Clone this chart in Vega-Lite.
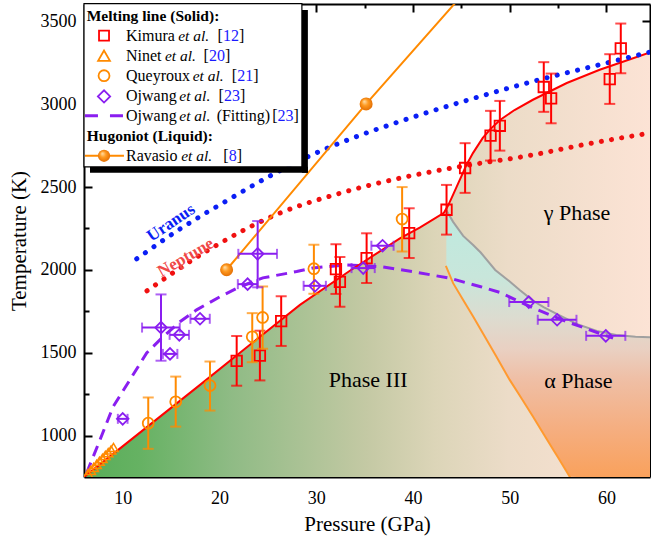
{
  "$schema": "https://vega.github.io/schema/vega-lite/v6.json",
  "width": 566,
  "height": 473,
  "autosize": {"type": "none"},
  "padding": {"left": 84, "top": 4, "right": 1, "bottom": 65},
  "background": "white",
  "data": {"values": [{}]},
  "config": {
    "view": {"stroke": null},
    "font": "Liberation Serif",
    "axis": {
      "labelFont": "Liberation Serif", "titleFont": "Liberation Serif",
      "labelFontSize": 18, "titleFontSize": 21, "titleFontWeight": "normal", "format": "d",
      "labelColor": "#000", "titleColor": "#000", "domainColor": "#000", "tickColor": "#000",
      "domainWidth": 2, "tickWidth": 2, "grid": false
    },
    "text": {"font": "Liberation Serif"}
  },
  "datasets": {
    "melt": [
      {"P": 6.0, "T": 748}, {"P": 6.28, "T": 763}, {"P": 12.82, "T": 1066}, {"P": 17.99, "T": 1306},
      {"P": 23.15, "T": 1548}, {"P": 28.32, "T": 1789}, {"P": 33.48, "T": 1995}, {"P": 38.65, "T": 2190},
      {"P": 40.7, "T": 2255}, {"P": 42.1, "T": 2305}, {"P": 43.2, "T": 2345}, {"P": 43.6, "T": 2385},
      {"P": 44.0, "T": 2435}, {"P": 44.5, "T": 2500}, {"P": 45.0, "T": 2565}, {"P": 45.5, "T": 2630},
      {"P": 46.2, "T": 2705}, {"P": 47.2, "T": 2795}, {"P": 48.0, "T": 2850}, {"P": 49.0, "T": 2905},
      {"P": 50.5, "T": 2965}, {"P": 52.4, "T": 3027}, {"P": 55.9, "T": 3128}, {"P": 59.3, "T": 3208},
      {"P": 64.5, "T": 3313}
    ],
    "alpha": [
      {"P": 43.45, "top": 2360, "bottom": 2025}, {"P": 44.15, "top": 2290, "bottom": 1920},
      {"P": 45.19, "top": 2205, "bottom": 1819}, {"P": 46.22, "top": 2150, "bottom": 1719},
      {"P": 47.0, "top": 2105, "bottom": 1640}, {"P": 48.5, "top": 2000, "bottom": 1490},
      {"P": 50.0, "top": 1930, "bottom": 1336}, {"P": 51.0, "top": 1880, "bottom": 1245},
      {"P": 52.4, "top": 1815, "bottom": 1115}, {"P": 53.5, "top": 1775, "bottom": 1010},
      {"P": 54.5, "top": 1745, "bottom": 914}, {"P": 55.0, "top": 1730, "bottom": 868},
      {"P": 56.2, "top": 1695, "bottom": 752}, {"P": 57.0, "top": 1672, "bottom": 750},
      {"P": 59.0, "top": 1632, "bottom": 750}, {"P": 61.0, "top": 1607, "bottom": 750},
      {"P": 63.0, "top": 1596, "bottom": 750}, {"P": 64.5, "top": 1594, "bottom": 750}
    ],
    "aboundary": [
      {"P": 43.4, "T": 2025}, {"P": 44.15, "T": 1920}, {"P": 45.19, "T": 1819}, {"P": 46.22, "T": 1719},
      {"P": 47.0, "T": 1640}, {"P": 48.5, "T": 1490}, {"P": 50.0, "T": 1336}, {"P": 51.0, "T": 1245},
      {"P": 52.4, "T": 1115}, {"P": 53.5, "T": 1010}, {"P": 54.5, "T": 914}, {"P": 55.0, "T": 868},
      {"P": 56.2, "T": 752}, {"P": 56.4, "T": 735}
    ],
    "fit": [
      {"P": 6.28, "T": 775}, {"P": 7.65, "T": 974}, {"P": 9.0, "T": 1173}, {"P": 10.75, "T": 1337},
      {"P": 12.48, "T": 1499}, {"P": 14.16, "T": 1596}, {"P": 15.92, "T": 1687}, {"P": 17.64, "T": 1759},
      {"P": 20.05, "T": 1838}, {"P": 22.12, "T": 1898}, {"P": 24.49, "T": 1952}, {"P": 27.98, "T": 1990},
      {"P": 29.66, "T": 2012}, {"P": 33.14, "T": 2030}, {"P": 36.58, "T": 2020}, {"P": 39.99, "T": 1990},
      {"P": 42.44, "T": 1964}, {"P": 43.81, "T": 1950}, {"P": 46.91, "T": 1900}, {"P": 48.98, "T": 1864},
      {"P": 52.39, "T": 1771}, {"P": 55.87, "T": 1688}, {"P": 60.68, "T": 1588}
    ],
    "uranus": [
      {"P": 11.45, "T": 2067}, {"P": 16.0, "T": 2250}, {"P": 20.91, "T": 2423}, {"P": 25.0, "T": 2560},
      {"P": 29.01, "T": 2680}, {"P": 33.5, "T": 2790}, {"P": 38.65, "T": 2896}, {"P": 45.54, "T": 3023},
      {"P": 52.42, "T": 3138}, {"P": 59.32, "T": 3239}, {"P": 64.5, "T": 3315}
    ],
    "neptune": [
      {"P": 12.51, "T": 1874}, {"P": 19.0, "T": 2125}, {"P": 26.25, "T": 2343}, {"P": 32.0, "T": 2455},
      {"P": 38.65, "T": 2554}, {"P": 45.0, "T": 2625}, {"P": 52.0, "T": 2690}, {"P": 58.0, "T": 2760},
      {"P": 64.5, "T": 2826}
    ],
    "ravLine": [{"P": 20.74, "T": 2001}, {"P": 35.16, "T": 3002}, {"P": 44.5, "T": 3620}],
    "rav": [{"P": 20.74, "T": 2001}, {"P": 35.16, "T": 3002}],
    "kimura": [
      {"P": 21.78, "T": 1451, "lo": 1301, "hi": 1601}, {"P": 24.18, "T": 1483, "lo": 1333, "hi": 1633},
      {"P": 26.38, "T": 1691, "lo": 1541, "hi": 1841}, {"P": 32.04, "T": 2005, "lo": 1855, "hi": 2155},
      {"P": 32.45, "T": 1928, "lo": 1778, "hi": 2078}, {"P": 35.21, "T": 2071, "lo": 1921, "hi": 2221},
      {"P": 39.61, "T": 2222, "lo": 2072, "hi": 2372}, {"P": 43.47, "T": 2363, "lo": 2213, "hi": 2513},
      {"P": 45.39, "T": 2615, "lo": 2465, "hi": 2765}, {"P": 48.02, "T": 2810, "lo": 2660, "hi": 2960},
      {"P": 48.98, "T": 2870, "lo": 2720, "hi": 3020}, {"P": 53.52, "T": 3104, "lo": 2954, "hi": 3254},
      {"P": 54.28, "T": 3035, "lo": 2885, "hi": 3185}, {"P": 60.34, "T": 3152, "lo": 3002, "hi": 3302},
      {"P": 61.48, "T": 3337, "lo": 3187, "hi": 3487}
    ],
    "queyroux": [
      {"P": 12.64, "T": 1075, "lo": 920, "hi": 1230}, {"P": 15.48, "T": 1204, "lo": 1054, "hi": 1356},
      {"P": 19.02, "T": 1302, "lo": 1151, "hi": 1447}, {"P": 23.39, "T": 1596, "lo": 1443, "hi": 1739},
      {"P": 24.46, "T": 1713, "lo": 1524, "hi": 1900}, {"P": 29.76, "T": 2007, "lo": 1856, "hi": 2152},
      {"P": 38.88, "T": 2307, "lo": 2111, "hi": 2500}
    ],
    "ninet": [
      {"P": 6.4, "T": 770}, {"P": 6.7, "T": 790}, {"P": 7.0, "T": 808}, {"P": 7.3, "T": 826},
      {"P": 7.6, "T": 845}, {"P": 7.9, "T": 862}, {"P": 8.2, "T": 880}, {"P": 8.5, "T": 897},
      {"P": 8.8, "T": 913}, {"P": 9.05, "T": 928}
    ],
    "ojwang": [
      {"P": 10.0, "T": 1101, "xlo": 9.5, "xhi": 10.5}, {"P": 13.96, "T": 1652, "xlo": 12.0, "xhi": 15.9},
      {"P": 14.89, "T": 1493, "xlo": 14.15, "xhi": 15.65}, {"P": 15.85, "T": 1608, "xlo": 14.85, "xhi": 16.85},
      {"P": 17.99, "T": 1705, "xlo": 17.0, "xhi": 19.0}, {"P": 22.91, "T": 1914, "xlo": 21.9, "xhi": 23.9},
      {"P": 23.95, "T": 2097, "xlo": 21.95, "xhi": 25.95}, {"P": 29.87, "T": 1904, "xlo": 28.7, "xhi": 31.0},
      {"P": 34.86, "T": 2011, "xlo": 33.65, "xhi": 36.05}, {"P": 36.86, "T": 2146, "xlo": 35.7, "xhi": 38.0},
      {"P": 51.97, "T": 1806, "xlo": 49.95, "xhi": 54.0}, {"P": 54.9, "T": 1699, "xlo": 52.9, "xhi": 56.9},
      {"P": 59.93, "T": 1602, "xlo": 57.9, "xhi": 61.95}
    ],
    "ojwangY": [{"P": 13.96, "lo": 1452, "hi": 1852}, {"P": 23.95, "lo": 1895, "hi": 2295}],
    "phaseLabels": [
      {"t": "Phase III", "P": 35.37, "T": 1336}, {"t": "γ Phase", "P": 56.95, "T": 2345},
      {"t": "α Phase", "P": 57.1, "T": 1330}
    ],
    "legNormal": [
      {"t": "Kimura", "P": 10.34, "T": 3414}, {"t": "[", "P": 19.81, "T": 3414}, {"t": "]", "P": 22.02, "T": 3414},
      {"t": "Ninet", "P": 10.34, "T": 3293}, {"t": "[", "P": 18.36, "T": 3293}, {"t": "]", "P": 20.57, "T": 3293},
      {"t": "Queyroux", "P": 10.34, "T": 3172}, {"t": "[", "P": 21.28, "T": 3172}, {"t": "]", "P": 23.49, "T": 3172},
      {"t": "Ojwang", "P": 10.34, "T": 3047}, {"t": "[", "P": 19.91, "T": 3047}, {"t": "]", "P": 22.12, "T": 3047},
      {"t": "Ojwang", "P": 10.34, "T": 2931}, {"t": "(Fitting)", "P": 19.71, "T": 2931}, {"t": "[", "P": 25.45, "T": 2931}, {"t": "]", "P": 27.66, "T": 2931},
      {"t": "Ravasio", "P": 10.34, "T": 2689}, {"t": "[", "P": 20.4, "T": 2689}, {"t": "]", "P": 21.79, "T": 2689}
    ],
    "legItalic": [
      {"t": "et al.", "P": 15.74, "T": 3414}, {"t": "et al.", "P": 14.37, "T": 3293}, {"t": "et al.", "P": 17.23, "T": 3172},
      {"t": "et al.", "P": 15.85, "T": 3047}, {"t": "et al.", "P": 15.85, "T": 2931}, {"t": "et al.", "P": 16.05, "T": 2689}
    ],
    "legBlue": [
      {"t": "12", "P": 20.37, "T": 3414}, {"t": "20", "P": 18.92, "T": 3293}, {"t": "21", "P": 21.84, "T": 3172},
      {"t": "23", "P": 20.47, "T": 3047}, {"t": "23", "P": 26.01, "T": 2931}, {"t": "8", "P": 20.96, "T": 2689}
    ],
    "legBold": [
      {"t": "Melting line (Solid):", "P": 6.28, "T": 3530}, {"t": "Hugoniot (Liquid):", "P": 6.28, "T": 2810}
    ]
  },
  "layer": [
    {
      "data": {"name": "melt"},
      "mark": {"type": "area", "clip": true, "fill": {"gradient": "linear", "x1": 0, "y1": 0, "x2": 1, "y2": 0,
        "stops": [
          {"offset": 0, "color": "#58ad58"}, {"offset": 0.1, "color": "#66b263"}, {"offset": 0.26, "color": "#8fbb85"},
          {"offset": 0.5, "color": "#c4c9a4"}, {"offset": 0.62, "color": "#dcd5b8"}, {"offset": 0.75, "color": "#ecdcc8"},
          {"offset": 1, "color": "#fce3d5"}]}},
      "encoding": {
        "x": {"field": "P", "type": "quantitative", "scale": {"domain": [6, 64.5], "nice": false, "zero": false},
          "axis": {"orient": "bottom", "values": [10, 20, 30, 40, 50, 60], "tickSize": -8, "labelPadding": 20, "title": "Pressure (GPa)", "titlePadding": 6}},
        "y": {"field": "T", "type": "quantitative", "scale": {"domain": [750, 3605], "nice": false, "zero": false},
          "axis": {"orient": "left", "values": [1000, 1500, 2000, 2500, 3000, 3500], "tickSize": -8, "labelPadding": 16, "title": "Temperature (K)", "titlePadding": 11}},
        "y2": {"datum": 750}
      }
    },
    {
      "data": {"name": "alpha"},
      "mark": {"type": "area", "clip": true, "fill": {"gradient": "linear", "x1": 0, "y1": 0, "x2": 0, "y2": 1,
        "stops": [
          {"offset": 0, "color": "#bdeadf"}, {"offset": 0.25, "color": "#c8e6db"}, {"offset": 0.4, "color": "#dcdcd0"},
          {"offset": 0.52, "color": "#e9d0c2"}, {"offset": 0.63, "color": "#efbfa6"}, {"offset": 0.82, "color": "#f5ae80"},
          {"offset": 1, "color": "#f9a15c"}]}},
      "encoding": {
        "x": {"field": "P", "type": "quantitative", "scale": {"domain": [6, 64.5], "nice": false, "zero": false},
          "axis": {"orient": "bottom", "values": [15, 25, 35, 45, 55], "tickSize": -4, "labels": false, "domain": false, "title": null}},
        "y": {"field": "top", "type": "quantitative", "scale": {"domain": [750, 3605], "nice": false, "zero": false},
          "axis": {"orient": "left", "values": [1250, 1750, 2250, 2750, 3250], "tickSize": -5, "labels": false, "domain": false, "title": null}},
        "y2": {"field": "bottom"}
      }
    },
    {
      "data": {"name": "alpha"},
      "mark": {"type": "line", "clip": true, "color": "#a0a0a0", "strokeWidth": 2},
      "encoding": {
        "x": {"field": "P", "type": "quantitative", "scale": {"domain": [6, 64.5], "nice": false, "zero": false},
          "axis": {"orient": "top", "values": [10, 20, 30, 40, 50, 60], "tickSize": -8, "labels": false, "title": null}},
        "y": {"field": "top", "type": "quantitative", "scale": {"domain": [750, 3605], "nice": false, "zero": false},
          "axis": {"orient": "right", "values": [1000, 1500, 2000, 2500, 3000, 3500], "tickSize": -8, "labels": false, "title": null}}
      }
    },
    {
      "data": {"name": "aboundary"},
      "mark": {"type": "line", "clip": true, "color": "#ff9a30", "strokeWidth": 2},
      "encoding": {
        "x": {"field": "P", "type": "quantitative", "scale": {"domain": [6, 64.5], "nice": false, "zero": false},
          "axis": {"orient": "top", "values": [15, 25, 35, 45, 55], "tickSize": -4, "labels": false, "domain": false, "title": null}},
        "y": {"field": "T", "type": "quantitative", "scale": {"domain": [750, 3605], "nice": false, "zero": false},
          "axis": {"orient": "right", "values": [1250, 1750, 2250, 2750, 3250], "tickSize": -5, "labels": false, "domain": false, "title": null}}
      }
    },
    {
      "data": {"name": "fit"},
      "mark": {"type": "line", "clip": true, "color": "#8a1ef0", "strokeWidth": 3, "strokeDash": [11, 7]},
      "encoding": {
        "x": {"field": "P", "type": "quantitative", "scale": {"domain": [6, 64.5], "nice": false, "zero": false}, "axis": null},
        "y": {"field": "T", "type": "quantitative", "scale": {"domain": [750, 3605], "nice": false, "zero": false}, "axis": null}
      }
    },
    {
      "data": {"name": "melt"},
      "mark": {"type": "line", "clip": true, "color": "#ff0000", "strokeWidth": 2},
      "encoding": {
        "x": {"field": "P", "type": "quantitative", "scale": {"domain": [6, 64.5], "nice": false, "zero": false}, "axis": null},
        "y": {"field": "T", "type": "quantitative", "scale": {"domain": [750, 3605], "nice": false, "zero": false}, "axis": null}
      }
    },
    {
      "data": {"name": "uranus"},
      "mark": {"type": "line", "clip": true, "color": "#0a1ef5", "strokeWidth": 5, "strokeDash": [0.1, 10.4], "strokeCap": "round", "interpolate": "monotone"},
      "encoding": {
        "x": {"field": "P", "type": "quantitative", "scale": {"domain": [6, 64.5], "nice": false, "zero": false}, "axis": null},
        "y": {"field": "T", "type": "quantitative", "scale": {"domain": [750, 3605], "nice": false, "zero": false}, "axis": null}
      }
    },
    {
      "data": {"name": "neptune"},
      "mark": {"type": "line", "clip": true, "color": "#f01010", "strokeWidth": 5, "strokeDash": [0.1, 10.2], "strokeCap": "round", "interpolate": "monotone"},
      "encoding": {
        "x": {"field": "P", "type": "quantitative", "scale": {"domain": [6, 64.5], "nice": false, "zero": false}, "axis": null},
        "y": {"field": "T", "type": "quantitative", "scale": {"domain": [750, 3605], "nice": false, "zero": false}, "axis": null}
      }
    },
    {
      "data": {"name": "ravLine"},
      "mark": {"type": "line", "clip": true, "color": "#ff8a00", "strokeWidth": 2},
      "encoding": {
        "x": {"field": "P", "type": "quantitative", "scale": {"domain": [6, 64.5], "nice": false, "zero": false}, "axis": null},
        "y": {"field": "T", "type": "quantitative", "scale": {"domain": [750, 3605], "nice": false, "zero": false}, "axis": null}
      }
    },
    {
      "data": {"name": "rav"},
      "mark": {"type": "point", "clip": true, "shape": "circle", "size": 170, "filled": true, "opacity": 1, "strokeWidth": 0,
        "fill": {"gradient": "radial", "x1": 0.35, "y1": 0.3, "r1": 0, "x2": 0.5, "y2": 0.5, "r2": 0.55,
          "stops": [{"offset": 0, "color": "#ffe2b0"}, {"offset": 0.45, "color": "#ff9a20"}, {"offset": 1, "color": "#e06a00"}]}},
      "encoding": {
        "x": {"field": "P", "type": "quantitative", "scale": {"domain": [6, 64.5], "nice": false, "zero": false}, "axis": null},
        "y": {"field": "T", "type": "quantitative", "scale": {"domain": [750, 3605], "nice": false, "zero": false}, "axis": null}
      }
    },
    {
      "data": {"name": "kimura"},
      "mark": {"type": "rule", "clip": true, "color": "#ff0000", "strokeWidth": 2},
      "encoding": {
        "x": {"field": "P", "type": "quantitative", "scale": {"domain": [6, 64.5], "nice": false, "zero": false}, "axis": null},
        "y": {"field": "lo", "type": "quantitative", "scale": {"domain": [750, 3605], "nice": false, "zero": false}, "axis": null},
        "y2": {"field": "hi"}
      }
    },
    {
      "data": {"name": "kimura"},
      "mark": {"type": "tick", "clip": true, "color": "#ff0000", "orient": "horizontal", "size": 11, "thickness": 2},
      "encoding": {
        "x": {"field": "P", "type": "quantitative", "scale": {"domain": [6, 64.5], "nice": false, "zero": false}, "axis": null},
        "y": {"field": "lo", "type": "quantitative", "scale": {"domain": [750, 3605], "nice": false, "zero": false}, "axis": null}
      }
    },
    {
      "data": {"name": "kimura"},
      "mark": {"type": "tick", "clip": true, "color": "#ff0000", "orient": "horizontal", "size": 11, "thickness": 2},
      "encoding": {
        "x": {"field": "P", "type": "quantitative", "scale": {"domain": [6, 64.5], "nice": false, "zero": false}, "axis": null},
        "y": {"field": "hi", "type": "quantitative", "scale": {"domain": [750, 3605], "nice": false, "zero": false}, "axis": null}
      }
    },
    {
      "data": {"name": "kimura"},
      "mark": {"type": "point", "clip": true, "shape": "square", "size": 110, "filled": false, "color": "#ff0000", "strokeWidth": 1.8, "opacity": 1},
      "encoding": {
        "x": {"field": "P", "type": "quantitative", "scale": {"domain": [6, 64.5], "nice": false, "zero": false}, "axis": null},
        "y": {"field": "T", "type": "quantitative", "scale": {"domain": [750, 3605], "nice": false, "zero": false}, "axis": null}
      }
    },
    {
      "data": {"name": "queyroux"},
      "mark": {"type": "rule", "clip": true, "color": "#ff8a00", "strokeWidth": 2},
      "encoding": {
        "x": {"field": "P", "type": "quantitative", "scale": {"domain": [6, 64.5], "nice": false, "zero": false}, "axis": null},
        "y": {"field": "lo", "type": "quantitative", "scale": {"domain": [750, 3605], "nice": false, "zero": false}, "axis": null},
        "y2": {"field": "hi"}
      }
    },
    {
      "data": {"name": "queyroux"},
      "mark": {"type": "tick", "clip": true, "color": "#ff8a00", "orient": "horizontal", "size": 11, "thickness": 2},
      "encoding": {
        "x": {"field": "P", "type": "quantitative", "scale": {"domain": [6, 64.5], "nice": false, "zero": false}, "axis": null},
        "y": {"field": "lo", "type": "quantitative", "scale": {"domain": [750, 3605], "nice": false, "zero": false}, "axis": null}
      }
    },
    {
      "data": {"name": "queyroux"},
      "mark": {"type": "tick", "clip": true, "color": "#ff8a00", "orient": "horizontal", "size": 11, "thickness": 2},
      "encoding": {
        "x": {"field": "P", "type": "quantitative", "scale": {"domain": [6, 64.5], "nice": false, "zero": false}, "axis": null},
        "y": {"field": "hi", "type": "quantitative", "scale": {"domain": [750, 3605], "nice": false, "zero": false}, "axis": null}
      }
    },
    {
      "data": {"name": "queyroux"},
      "mark": {"type": "point", "clip": true, "shape": "circle", "size": 120, "filled": false, "color": "#ff8a00", "strokeWidth": 1.8, "opacity": 1},
      "encoding": {
        "x": {"field": "P", "type": "quantitative", "scale": {"domain": [6, 64.5], "nice": false, "zero": false}, "axis": null},
        "y": {"field": "T", "type": "quantitative", "scale": {"domain": [750, 3605], "nice": false, "zero": false}, "axis": null}
      }
    },
    {
      "data": {"name": "ninet"},
      "mark": {"type": "point", "clip": true, "shape": "triangle-up", "size": 90, "filled": false, "color": "#ff8a00", "strokeWidth": 1.5, "opacity": 1},
      "encoding": {
        "x": {"field": "P", "type": "quantitative", "scale": {"domain": [6, 64.5], "nice": false, "zero": false}, "axis": null},
        "y": {"field": "T", "type": "quantitative", "scale": {"domain": [750, 3605], "nice": false, "zero": false}, "axis": null}
      }
    },
    {
      "data": {"name": "ojwang"},
      "mark": {"type": "rule", "clip": true, "color": "#8a1ef0", "strokeWidth": 2},
      "encoding": {
        "x": {"field": "xlo", "type": "quantitative", "scale": {"domain": [6, 64.5], "nice": false, "zero": false}, "axis": null},
        "x2": {"field": "xhi"},
        "y": {"field": "T", "type": "quantitative", "scale": {"domain": [750, 3605], "nice": false, "zero": false}, "axis": null}
      }
    },
    {
      "data": {"name": "ojwang"},
      "mark": {"type": "tick", "clip": true, "color": "#8a1ef0", "orient": "vertical", "size": 10, "thickness": 2},
      "encoding": {
        "x": {"field": "xlo", "type": "quantitative", "scale": {"domain": [6, 64.5], "nice": false, "zero": false}, "axis": null},
        "y": {"field": "T", "type": "quantitative", "scale": {"domain": [750, 3605], "nice": false, "zero": false}, "axis": null}
      }
    },
    {
      "data": {"name": "ojwang"},
      "mark": {"type": "tick", "clip": true, "color": "#8a1ef0", "orient": "vertical", "size": 10, "thickness": 2},
      "encoding": {
        "x": {"field": "xhi", "type": "quantitative", "scale": {"domain": [6, 64.5], "nice": false, "zero": false}, "axis": null},
        "y": {"field": "T", "type": "quantitative", "scale": {"domain": [750, 3605], "nice": false, "zero": false}, "axis": null}
      }
    },
    {
      "data": {"name": "ojwangY"},
      "mark": {"type": "rule", "clip": true, "color": "#8a1ef0", "strokeWidth": 2},
      "encoding": {
        "x": {"field": "P", "type": "quantitative", "scale": {"domain": [6, 64.5], "nice": false, "zero": false}, "axis": null},
        "y": {"field": "lo", "type": "quantitative", "scale": {"domain": [750, 3605], "nice": false, "zero": false}, "axis": null},
        "y2": {"field": "hi"}
      }
    },
    {
      "data": {"name": "ojwangY"},
      "mark": {"type": "tick", "clip": true, "color": "#8a1ef0", "orient": "horizontal", "size": 11, "thickness": 2},
      "encoding": {
        "x": {"field": "P", "type": "quantitative", "scale": {"domain": [6, 64.5], "nice": false, "zero": false}, "axis": null},
        "y": {"field": "lo", "type": "quantitative", "scale": {"domain": [750, 3605], "nice": false, "zero": false}, "axis": null}
      }
    },
    {
      "data": {"name": "ojwangY"},
      "mark": {"type": "tick", "clip": true, "color": "#8a1ef0", "orient": "horizontal", "size": 11, "thickness": 2},
      "encoding": {
        "x": {"field": "P", "type": "quantitative", "scale": {"domain": [6, 64.5], "nice": false, "zero": false}, "axis": null},
        "y": {"field": "hi", "type": "quantitative", "scale": {"domain": [750, 3605], "nice": false, "zero": false}, "axis": null}
      }
    },
    {
      "data": {"name": "ojwang"},
      "mark": {"type": "point", "clip": true, "shape": "diamond", "size": 135, "filled": false, "color": "#8a1ef0", "strokeWidth": 1.8, "opacity": 1},
      "encoding": {
        "x": {"field": "P", "type": "quantitative", "scale": {"domain": [6, 64.5], "nice": false, "zero": false}, "axis": null},
        "y": {"field": "T", "type": "quantitative", "scale": {"domain": [750, 3605], "nice": false, "zero": false}, "axis": null}
      }
    },
    {
      "data": {"name": "phaseLabels"},
      "mark": {"type": "text", "font": "Liberation Serif", "fontSize": 22, "color": "#000", "align": "center", "baseline": "middle"},
      "encoding": {
        "x": {"field": "P", "type": "quantitative", "scale": {"domain": [6, 64.5], "nice": false, "zero": false}, "axis": null},
        "y": {"field": "T", "type": "quantitative", "scale": {"domain": [750, 3605], "nice": false, "zero": false}, "axis": null},
        "text": {"field": "t"}
      }
    },
    {
      "mark": {"type": "text", "text": "Uranus", "font": "Liberation Serif", "fontWeight": "bold", "fontSize": 17, "color": "#0a1ef5", "angle": 326, "align": "center", "baseline": "middle"},
      "encoding": {
        "x": {"datum": 15.0, "type": "quantitative", "scale": {"domain": [6, 64.5], "nice": false, "zero": false}, "axis": null},
        "y": {"datum": 2285, "type": "quantitative", "scale": {"domain": [750, 3605], "nice": false, "zero": false}, "axis": null}
      }
    },
    {
      "mark": {"type": "text", "text": "Neptune", "font": "Liberation Serif", "fontWeight": "bold", "fontSize": 17, "color": "#f04848", "angle": 330, "align": "center", "baseline": "middle"},
      "encoding": {
        "x": {"datum": 16.5, "type": "quantitative", "scale": {"domain": [6, 64.5], "nice": false, "zero": false}, "axis": null},
        "y": {"datum": 2075, "type": "quantitative", "scale": {"domain": [750, 3605], "nice": false, "zero": false}, "axis": null}
      }
    },
    {
      "mark": {"type": "rect", "color": "#000"},
      "encoding": {
        "x": {"datum": 28.52, "type": "quantitative", "scale": {"domain": [6, 64.5], "nice": false, "zero": false}, "axis": null},
        "x2": {"datum": 29.14},
        "y": {"datum": 3569, "type": "quantitative", "scale": {"domain": [750, 3605], "nice": false, "zero": false}, "axis": null},
        "y2": {"datum": 2586}
      }
    },
    {
      "mark": {"type": "rect", "color": "#000"},
      "encoding": {
        "x": {"datum": 6.62, "type": "quantitative", "scale": {"domain": [6, 64.5], "nice": false, "zero": false}, "axis": null},
        "x2": {"datum": 29.14},
        "y": {"datum": 2622, "type": "quantitative", "scale": {"domain": [750, 3605], "nice": false, "zero": false}, "axis": null},
        "y2": {"datum": 2586}
      }
    },
    {
      "mark": {"type": "rect", "fill": "#fff", "stroke": "#000", "strokeWidth": 1.2},
      "encoding": {
        "x": {"datum": 6.0, "type": "quantitative", "scale": {"domain": [6, 64.5], "nice": false, "zero": false}, "axis": null},
        "x2": {"datum": 28.52},
        "y": {"datum": 3607, "type": "quantitative", "scale": {"domain": [750, 3605], "nice": false, "zero": false}, "axis": null},
        "y2": {"datum": 2622}
      }
    },
    {
      "mark": {"type": "point", "shape": "square", "size": 100, "filled": false, "color": "#ff0000", "strokeWidth": 1.8, "opacity": 1},
      "encoding": {
        "x": {"datum": 8.07, "type": "quantitative", "scale": {"domain": [6, 64.5], "nice": false, "zero": false}, "axis": null},
        "y": {"datum": 3414, "type": "quantitative", "scale": {"domain": [750, 3605], "nice": false, "zero": false}, "axis": null}
      }
    },
    {
      "mark": {"type": "point", "shape": "triangle-up", "size": 140, "filled": false, "color": "#ff8a00", "strokeWidth": 1.8, "opacity": 1},
      "encoding": {
        "x": {"datum": 8.07, "type": "quantitative", "scale": {"domain": [6, 64.5], "nice": false, "zero": false}, "axis": null},
        "y": {"datum": 3293, "type": "quantitative", "scale": {"domain": [750, 3605], "nice": false, "zero": false}, "axis": null}
      }
    },
    {
      "mark": {"type": "point", "shape": "circle", "size": 120, "filled": false, "color": "#ff8a00", "strokeWidth": 1.8, "opacity": 1},
      "encoding": {
        "x": {"datum": 8.07, "type": "quantitative", "scale": {"domain": [6, 64.5], "nice": false, "zero": false}, "axis": null},
        "y": {"datum": 3172, "type": "quantitative", "scale": {"domain": [750, 3605], "nice": false, "zero": false}, "axis": null}
      }
    },
    {
      "mark": {"type": "point", "shape": "diamond", "size": 150, "filled": false, "color": "#8a1ef0", "strokeWidth": 1.8, "opacity": 1},
      "encoding": {
        "x": {"datum": 8.07, "type": "quantitative", "scale": {"domain": [6, 64.5], "nice": false, "zero": false}, "axis": null},
        "y": {"datum": 3047, "type": "quantitative", "scale": {"domain": [750, 3605], "nice": false, "zero": false}, "axis": null}
      }
    },
    {
      "mark": {"type": "rule", "color": "#8a1ef0", "strokeWidth": 3, "strokeDash": [13, 12]},
      "encoding": {
        "x": {"datum": 6.1, "type": "quantitative", "scale": {"domain": [6, 64.5], "nice": false, "zero": false}, "axis": null},
        "x2": {"datum": 10.13},
        "y": {"datum": 2931, "type": "quantitative", "scale": {"domain": [750, 3605], "nice": false, "zero": false}, "axis": null}
      }
    },
    {
      "mark": {"type": "rule", "color": "#ff8a00", "strokeWidth": 2},
      "encoding": {
        "x": {"datum": 6.1, "type": "quantitative", "scale": {"domain": [6, 64.5], "nice": false, "zero": false}, "axis": null},
        "x2": {"datum": 10.13},
        "y": {"datum": 2689, "type": "quantitative", "scale": {"domain": [750, 3605], "nice": false, "zero": false}, "axis": null}
      }
    },
    {
      "mark": {"type": "point", "shape": "circle", "size": 150, "filled": true, "opacity": 1, "strokeWidth": 0,
        "fill": {"gradient": "radial", "x1": 0.35, "y1": 0.3, "r1": 0, "x2": 0.5, "y2": 0.5, "r2": 0.55,
          "stops": [{"offset": 0, "color": "#ffe2b0"}, {"offset": 0.45, "color": "#ff9a20"}, {"offset": 1, "color": "#e06a00"}]}},
      "encoding": {
        "x": {"datum": 8.07, "type": "quantitative", "scale": {"domain": [6, 64.5], "nice": false, "zero": false}, "axis": null},
        "y": {"datum": 2689, "type": "quantitative", "scale": {"domain": [750, 3605], "nice": false, "zero": false}, "axis": null}
      }
    },
    {
      "data": {"name": "legNormal"},
      "mark": {"type": "text", "font": "Liberation Serif", "fontSize": 16, "color": "#000", "align": "left", "baseline": "middle"},
      "encoding": {
        "x": {"field": "P", "type": "quantitative", "scale": {"domain": [6, 64.5], "nice": false, "zero": false}, "axis": null},
        "y": {"field": "T", "type": "quantitative", "scale": {"domain": [750, 3605], "nice": false, "zero": false}, "axis": null},
        "text": {"field": "t"}
      }
    },
    {
      "data": {"name": "legItalic"},
      "mark": {"type": "text", "font": "Liberation Serif", "fontSize": 15.5, "fontStyle": "italic", "color": "#000", "align": "left", "baseline": "middle"},
      "encoding": {
        "x": {"field": "P", "type": "quantitative", "scale": {"domain": [6, 64.5], "nice": false, "zero": false}, "axis": null},
        "y": {"field": "T", "type": "quantitative", "scale": {"domain": [750, 3605], "nice": false, "zero": false}, "axis": null},
        "text": {"field": "t"}
      }
    },
    {
      "data": {"name": "legBlue"},
      "mark": {"type": "text", "font": "Liberation Serif", "fontSize": 16, "color": "#1a1aff", "align": "left", "baseline": "middle"},
      "encoding": {
        "x": {"field": "P", "type": "quantitative", "scale": {"domain": [6, 64.5], "nice": false, "zero": false}, "axis": null},
        "y": {"field": "T", "type": "quantitative", "scale": {"domain": [750, 3605], "nice": false, "zero": false}, "axis": null},
        "text": {"field": "t"}
      }
    },
    {
      "data": {"name": "legBold"},
      "mark": {"type": "text", "font": "Liberation Serif", "fontSize": 15.5, "fontWeight": "bold", "color": "#000", "align": "left", "baseline": "middle"},
      "encoding": {
        "x": {"field": "P", "type": "quantitative", "scale": {"domain": [6, 64.5], "nice": false, "zero": false}, "axis": null},
        "y": {"field": "T", "type": "quantitative", "scale": {"domain": [750, 3605], "nice": false, "zero": false}, "axis": null},
        "text": {"field": "t"}
      }
    }
  ],
  "resolve": {"axis": {"x": "independent", "y": "independent"}}
}
